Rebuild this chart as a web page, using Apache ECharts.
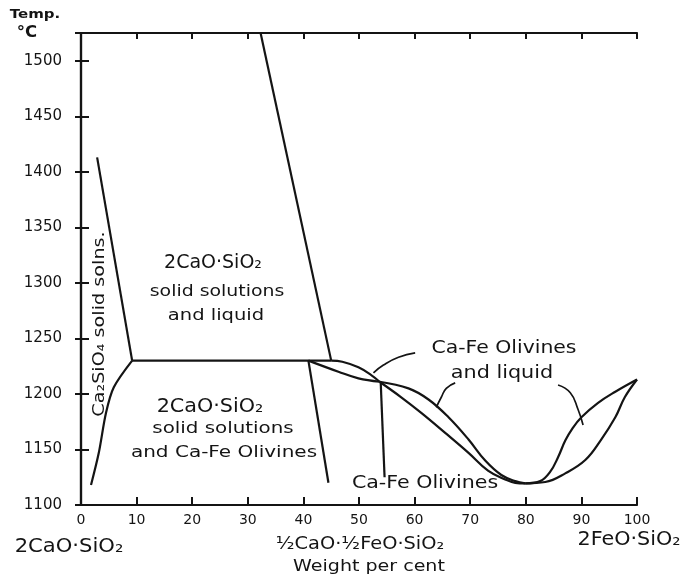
<!DOCTYPE html>
<html><head><meta charset="utf-8">
<script src="https://cdn.jsdelivr.net/npm/echarts@6/dist/echarts.min.js"></script>
<style>html,body{margin:0;padding:0;background:#fff}#c{width:689px;height:584px}</style>
</head><body><div id="c"></div>
<script>
// ---- data (weight per cent, temperature °C) ----
const xTickValues = [0, 10, 20, 30, 40, 50, 60, 70, 80, 90, 100];
const yTickValues = [1100, 1150, 1200, 1250, 1300, 1350, 1400, 1450, 1500];

const liquidusSteep   = [[32.3, 1525], [45.0, 1230]];
const eutecticLine    = [[9.2, 1230], [45.0, 1230]];
const ca2sio4Upper    = [[2.9, 1413], [9.2, 1230]];
const ca2sio4Lower    = [[9.2, 1230], [5.9, 1206], [4.5, 1183], [3.2, 1147], [1.8, 1118]];
const olivineLimit    = [[40.9, 1230], [44.5, 1120]];
const liquidusLeft    = [[45.0, 1230], [47.0, 1229], [49.9, 1224], [52.2, 1217], [53.7, 1211]];
const solidusLeft     = [[40.9, 1230], [46.3, 1220], [49.9, 1214], [53.7, 1211]];
const liquidusMid     = [[53.7, 1211], [58.9, 1205], [62.5, 1195], [66.1, 1179], [69.7, 1159], [72.7, 1140], [75.6, 1127], [78.1, 1121.5], [79.9, 1119.5]];
const solidusMid      = [[53.7, 1211], [57.6, 1197], [61.2, 1183], [65.5, 1165], [69.7, 1147], [73.2, 1131], [76.3, 1123], [78.1, 1120], [79.9, 1119.5]];
const liquidusRight   = [[79.9, 1119.5], [82.6, 1121.5], [84.4, 1130], [85.8, 1143], [87.1, 1158], [88.4, 1169], [90.0, 1179], [93.0, 1192], [96.1, 1202], [100, 1213]];
const solidusRight    = [[79.9, 1119.5], [83.5, 1120.7], [87.1, 1128.5], [90.7, 1140.5], [93.5, 1158.5], [96.1, 1179], [97.8, 1197], [100, 1213]];
const verticalTie     = [[53.9, 1211], [54.6, 1125]];
const leader1         = [[60.1, 1237], [57.1, 1233], [54.4, 1226], [52.6, 1219]];
const leader2         = [[67.3, 1210], [65.7, 1205], [64.8, 1197], [63.9, 1188]];
const leader3         = [[85.8, 1208], [88.0, 1201], [89.4, 1186], [90.3, 1172]];

const INK = '#141414';
const FONT = 'DejaVu Sans';

function line(name, data, smooth, width) {
  return {
    name: name, type: 'line', data: data, smooth: smooth || false,
    showSymbol: false, symbol: 'none', silent: true, animation: false,
    lineStyle: { color: INK, width: width || 2.2 }
  };
}

function txt(text, x, y, size, sx, extra) {
  return Object.assign({
    type: 'text', x: x, y: y, silent: true, scaleX: sx || 1,
    style: { text: text, fill: INK, fontSize: size, fontFamily: FONT, align: 'center', verticalAlign: 'middle' }
  }, extra || {});
}

const chart = echarts.init(document.getElementById('c'), null, { renderer: 'canvas' });
chart.setOption({
  animation: false,
  backgroundColor: '#fff',
  grid: { left: 81, right: 52, top: 33, bottom: 79, show: false },
  xAxis: [{
    type: 'value', min: 0, max: 100, interval: 10, position: 'bottom',
    axisLine: { show: true, lineStyle: { color: INK, width: 2.2 } },
    axisTick: { show: true, inside: true, length: 8, lineStyle: { color: INK, width: 2 } },
    axisLabel: { color: INK, fontSize: 14, fontFamily: FONT, margin: 8 },
    splitLine: { show: false }
  }, {
    type: 'value', min: 0, max: 100, interval: 10, position: 'top',
    axisLine: { show: true, lineStyle: { color: INK, width: 2.2 } },
    axisTick: { show: true, inside: true, length: 6, lineStyle: { color: INK, width: 2 } },
    axisLabel: { show: false }, splitLine: { show: false }
  }],
  yAxis: [{
    type: 'value', min: 1100, max: 1525, interval: 50, position: 'left',
    axisLine: { show: true, lineStyle: { color: INK, width: 2.2 } },
    axisTick: { show: true, inside: true, length: 8, lineStyle: { color: INK, width: 2 } },
    axisLabel: { color: INK, fontSize: 15, fontFamily: FONT, margin: 19,
      formatter: function (v) { return yTickValues.indexOf(v) >= 0 ? String(v) : ''; } },
    splitLine: { show: false }
  }, {
    type: 'value', min: 1100, max: 1525, interval: 50, position: 'right',
    axisLine: { show: true, lineStyle: { color: INK, width: 2.2 } },
    axisTick: { show: true, inside: true, length: 6, lineStyle: { color: INK, width: 2 } },
    axisLabel: { show: false }, splitLine: { show: false }
  }],
  series: [
    line('liquidusSteep', liquidusSteep),
    line('eutecticLine', eutecticLine),
    line('ca2sio4Upper', ca2sio4Upper),
    line('ca2sio4Lower', ca2sio4Lower, 0.3),
    line('olivineLimit', olivineLimit),
    line('liquidusLeft', liquidusLeft, 0.4),
    line('solidusLeft', solidusLeft, 0.4),
    line('liquidusMid', liquidusMid, 0.4),
    line('solidusMid', solidusMid, 0.4),
    line('liquidusRight', liquidusRight, 0.4),
    line('solidusRight', solidusRight, 0.4),
    line('verticalTie', verticalTie),
    line('leader1', leader1, 0.5, 1.7),
    line('leader2', leader2, 0.5, 1.7),
    line('leader3', leader3, 0.5, 1.7)
  ],
  graphic: [
    txt('Temp.', 35, 15, 12, 1.25, { style: { text: 'Temp.', fill: INK, fontSize: 12, fontWeight: 'bold', fontFamily: FONT, align: 'center', verticalAlign: 'middle' } }),
    txt('°C', 27, 33, 15, 1.1, { style: { text: '°C', fill: INK, fontSize: 15, fontWeight: 'bold', fontFamily: FONT, align: 'center', verticalAlign: 'middle' } }),
    txt('2CaO·SiO₂', 213, 263, 19, 1.0),
    txt('solid solutions', 217, 292, 16, 1.18),
    txt('and liquid', 216, 316, 16, 1.22),
    txt('2CaO·SiO₂', 210, 407, 19, 1.09),
    txt('solid solutions', 223, 429, 16, 1.24),
    txt('and Ca-Fe Olivines', 224, 453, 16, 1.25),
    txt('Ca₂SiO₄ solid solns.', 100, 324, 16, 1.2, { rotation: Math.PI / 2 }),
    txt('Ca-Fe Olivines', 504, 349, 17, 1.2),
    txt('and liquid', 502, 374, 17, 1.22),
    txt('Ca-Fe Olivines', 425, 484, 17, 1.21),
    txt('2CaO·SiO₂', 69, 547, 19, 1.11),
    txt('½CaO·½FeO·SiO₂', 360, 545, 17, 1.14),
    txt('Weight per cent', 369, 567, 16, 1.19),
    txt('2FeO·SiO₂', 629, 540, 19, 1.09)
  ]
});
</script>
</body></html>
